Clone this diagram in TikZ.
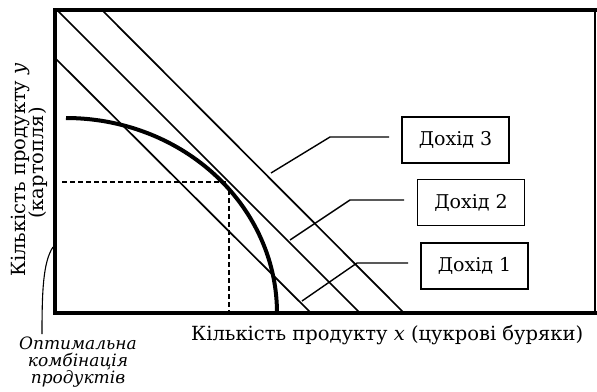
\documentclass[tikz,border=0pt]{standalone}
\usepackage{fontspec}
\setmainfont{DejaVu Serif}
\begin{document}
\begin{tikzpicture}[x=1pt,y=-1pt,
  thinline/.style={line width=1.7pt},
  leader/.style={line width=1.4pt},
  frameline/.style={line width=4pt},
  curveline/.style={line width=4pt},
  dashline/.style={line width=1.3pt,dash pattern=on 5pt off 3pt},
  incbox/.style={draw,line width=1.6pt,minimum width=107pt,minimum height=46pt,inner sep=0pt,font=\fontsize{19}{22}\selectfont},
  lbl/.style={inner sep=0pt,font=\fontsize{19.5}{22}\selectfont}]
\useasboundingbox (0,0) rectangle (597,391);
% frame
\draw[frameline] (55,10) -- (597,10);
\draw[frameline] (55,8) -- (55,315);
\draw[frameline] (55,313) -- (597,313);
\draw[line width=1.1pt] (595,10) -- (595,313);
% income lines
\coordinate (l1a) at (55,58);  \coordinate (l1b) at (311,313);
\coordinate (l2a) at (58,11);  \coordinate (l2b) at (360,313);
\coordinate (l3a) at (103,11); \coordinate (l3b) at (404,313);
\draw[thinline] (l1a) -- (l1b);
\draw[thinline] (l2a) -- (l2b);
\draw[thinline] (l3a) -- (l3b);
% production possibility curve
\draw[curveline] plot[domain=-90:0,samples=80,smooth] ({66+211*cos(\x)},{313+195*sin(\x)});
% dashed
\coordinate (opt) at (226,181);
\coordinate (ya) at (62,182);
\coordinate (xa) at (229,311);
\draw[dashline] (ya) -- (opt |- ya);
\draw[dashline] (229,190) -- (xa);
% boxes
\node[incbox] (d3) at (455.5,140) {Дохід 3};
\node[incbox] (d2) at (471,202.5) {Дохід 2};
\node[incbox] (d1) at (474.5,266) {Дохід 1};
% leaders
\coordinate (e3) at (271,173);
\coordinate (e2) at (290,240);
\coordinate (e1) at (302,301);
\draw[leader] (389,137) -- (330,137) -- (e3);
\draw[leader] (404,200) -- (350,200) -- (e2);
\draw[leader] (408,263) -- (357,263) -- (e1);
% axis labels
\node[lbl,anchor=west] (xl) at (191,335) {Кількість продукту \textit{x} (цукрові буряки)};
\node[lbl,rotate=90] (yl1) at (20,170) {Кількість продукту \textit{y}};
\node[lbl,rotate=90] (yl2) at (38,163) {(картопля)};
% optimum annotation
\node[lbl,align=center,font=\fontsize{17}{17}\selectfont\itshape] (optl) at (78,362) {Оптимальна\\комбінація\\продуктів};
\draw[line width=1.1pt] (53,247) .. controls (43,262) and (42,292) .. (42,334);
\end{tikzpicture}
\end{document}
